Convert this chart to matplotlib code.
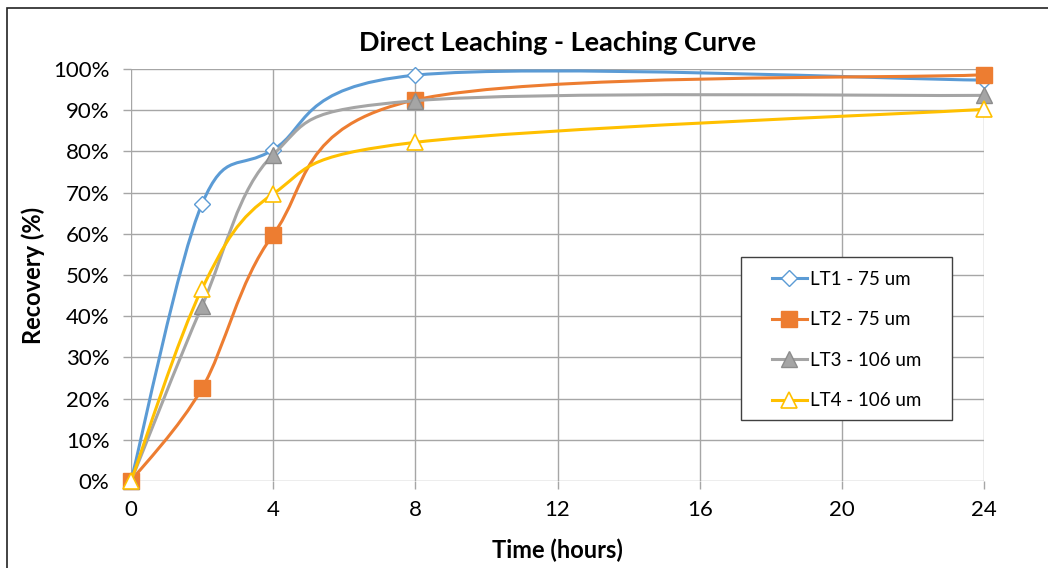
import numpy as np
import matplotlib
matplotlib.use("Agg")
import matplotlib.pyplot as plt
from matplotlib.path import Path
from matplotlib.patches import PathPatch, Rectangle
from matplotlib.lines import Line2D
from matplotlib.ticker import PercentFormatter

plt.rcParams['font.family'] = ['Lato', 'DejaVu Sans']

# Data
hours = [0, 2, 4, 8, 24]
lt1 = [0.0, 0.673, 0.804, 0.985, 0.973]
lt2 = [0.0, 0.225, 0.598, 0.925, 0.986]
lt3 = [0.0, 0.425, 0.792, 0.923, 0.936]
lt4 = [0.0, 0.467, 0.697, 0.822, 0.902]
labels = ['LT1 - 75 um', 'LT2 - 75 um', 'LT3 - 106 um', 'LT4 - 106 um']
x_ticks = [0, 4, 8, 12, 16, 20, 24]

colors = ['#5B9BD5', '#ED7D31', '#A5A5A5', '#FFC000']
styles = [
    dict(marker='D', markersize=8.5, markerfacecolor='white', markeredgecolor='#5B9BD5', markeredgewidth=1.0),
    dict(marker='s', markersize=11.5, markerfacecolor='#ED7D31', markeredgecolor='#ED7D31', markeredgewidth=1.0),
    dict(marker='^', markersize=11, markerfacecolor='#A5A5A5', markeredgecolor='#8C8C8C', markeredgewidth=1.0),
    dict(marker='^', markersize=11, markerfacecolor='white', markeredgecolor='#FFC000', markeredgewidth=1.2),
]


def smooth_path(xs, ys):
    # Excel-like smoothed line: cubic Bezier segments through the points
    pts = np.column_stack([xs, ys]).astype(float)
    n = len(pts)
    verts = [pts[0]]
    codes = [Path.MOVETO]
    for i in range(n - 1):
        p0 = pts[i - 1] if i > 0 else pts[i]
        p1 = pts[i]
        p2 = pts[i + 1]
        p3 = pts[i + 2] if i + 2 < n else pts[i + 1]
        c1 = p1 + (p2 - p0) / 6.0
        c2 = p2 - (p3 - p1) / 6.0
        verts += [c1, c2, p2]
        codes += [Path.CURVE4] * 3
    return Path(verts, codes)


fig = plt.figure(figsize=(10.48, 5.68), dpi=100)
ax = fig.add_axes([131 / 1048, 1 - 481 / 568, (984 - 131) / 1048, (481 - 69) / 568])

for i, ys in enumerate([lt1, lt2, lt3, lt4]):
    ax.add_patch(PathPatch(smooth_path(hours, ys), facecolor='none', edgecolor=colors[i],
                           linewidth=2.2, capstyle='round', zorder=3 + i, clip_on=False))
    ax.plot(hours, ys, linestyle='none', zorder=3.5 + i, clip_on=False, **styles[i])

ax.set_xlim(0, 24)
ax.set_ylim(0, 1)
ax.set_xticks(x_ticks)
ax.set_yticks(np.arange(0, 1.01, 0.1))
ax.yaxis.set_major_formatter(PercentFormatter(1.0, decimals=0))
ax.grid(True, color='#A6A6A6', linewidth=1.0, zorder=0)
ax.set_axisbelow(True)
for s in ax.spines.values():
    s.set_visible(False)
ax.tick_params(axis='both', length=5.5, width=1.0, color='#A6A6A6', labelsize=16)
ax.tick_params(axis='x', pad=8)
ax.tick_params(axis='y', pad=10)

title = ax.set_title('Direct Leaching - Leaching Curve', fontsize=19.5, fontweight='bold',
                     y=1 + 26 / 412, pad=0, va='center')
ax.set_xlabel('Time (hours)', fontsize=17, fontweight='bold', va='center')
ax.xaxis.set_label_coords(0.5, -(550 - 481) / 412)
ax.set_ylabel('Recovery (%)', fontsize=17, fontweight='bold', va='center')
ax.yaxis.set_label_coords(-(131 - 33) / 853, 0.5)

# legend box drawn separately so the padding matches
ax.add_patch(Rectangle(((741 - 131) / 853, (481 - 420) / 412), 211 / 853, 163 / 412,
                       transform=ax.transAxes, facecolor='white', edgecolor='#404040',
                       linewidth=1.0, zorder=9))
handles = [Line2D([0], [0], color=colors[i], linewidth=2.2, **styles[i]) for i in range(4)]
leg = ax.legend(handles, labels, loc='upper left', bbox_to_anchor=((772 - 131) / 853, (481 - 271) / 412),
                fontsize=13.5, frameon=False, handlelength=1.85, labelspacing=1.25,
                borderpad=0, handletextpad=0.2, borderaxespad=0)
leg.set_zorder(10)

fig.patches.append(Rectangle((7 / 1048, -0.1), 1.2, 1 - 8 / 568 + 0.1, transform=fig.transFigure,
                             facecolor='none', edgecolor='#222222', linewidth=1.2))

fig.savefig('out.png', dpi=100)
